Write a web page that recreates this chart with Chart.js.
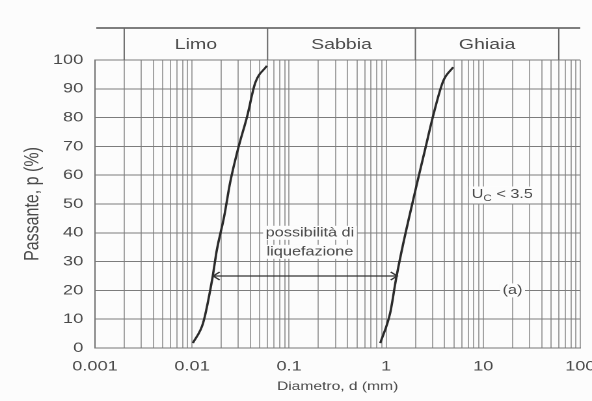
<!DOCTYPE html>
<html lang="it">
<head>
<meta charset="utf-8">
<title>Curva granulometrica - liquefazione</title>
<script src="https://cdn.jsdelivr.net/npm/chart.js@4.4.1/dist/chart.umd.min.js"></script>
<style>
  html, body { margin: 0; padding: 0; background: #fcfcfc; overflow: hidden; }
  /* il grafico originale e' una scansione allargata in orizzontale */
  #contenitore { width: 455px; height: 401px; transform: scaleX(1.3011); transform-origin: 0 0; }
</style>
</head>
<body>
<div id="contenitore">
  <canvas id="graficoGranulometria" width="455" height="401"></canvas>
</div>
<script>
// Dati
const diametroSx = [0.0102, 0.013, 0.0161, 0.018, 0.0214, 0.0247, 0.0297, 0.037, 0.0447, 0.059];
const passanteSx = [1.7, 8.7, 23.7, 34, 45.6, 57.5, 69, 80.5, 92, 98];
const diametroDx = [0.87, 1.1, 1.26, 1.45, 1.73, 2.09, 2.52, 3.04, 3.87, 4.9];
const passanteDx = [1.7, 12.2, 23.7, 34, 45.6, 57.5, 69, 80.5, 92.7, 97.5];

// freccia "possibilità di liquefazione"
const frecciaDiametri = [0.0165, 1.3];
const frecciaPassante = 25;

// fasce granulometriche in alto
const limitiFasce = [0.002, 0.06, 2, 60];
const nomiFasce = ['Limo', 'Sabbia', 'Ghiaia'];

// etichette asse x
const decadi = [0.001, 0.01, 0.1, 1, 10, 100];
const etichetteDecadi = ['0.001', '0.01', '0.1', '1', '10', '100'];

const testo = '#4a4a4a';
const famiglia = '"Liberation Sans", Arial, sans-serif';
Chart.defaults.font.family = famiglia;

// linee di griglia verticali: 1..9 per ogni decade
const valoriGriglia = [];
decadi.slice(0, -1).forEach(d => {
  for (let m = 1; m <= 9; m++) valoriGriglia.push(m * d);
});
valoriGriglia.push(decadi[decadi.length - 1]);

function etichettaX(v) {
  const i = decadi.findIndex(d => Math.abs(d - v) < d * 1e-6);
  return i >= 0 ? etichetteDecadi[i] : '';
}

function testoConSfondo(ctx, t, xc, yc, font) {
  ctx.font = font;
  const w = ctx.measureText(t).width;
  ctx.fillStyle = '#fcfcfc';
  ctx.fillRect(xc - w / 2 - 2, yc - 7, w + 4, 14);
  ctx.fillStyle = testo;
  ctx.fillText(t, xc, yc);
}

const bandaSuperiore = {
  id: 'bandaSuperiore',
  afterDraw(chart) {
    const { ctx, chartArea, scales: { x } } = chart;
    const yAlto = 28;
    ctx.save();
    ctx.strokeStyle = '#555';
    ctx.lineWidth = 1.6;
    ctx.beginPath();
    ctx.moveTo(chartArea.left + 1, yAlto);
    ctx.lineTo(chartArea.right, yAlto);
    ctx.stroke();
    ctx.lineWidth = 1;
    ctx.strokeStyle = '#666';
    ctx.beginPath();
    limitiFasce.forEach(v => {
      const px = x.getPixelForValue(v);
      ctx.moveTo(px, yAlto);
      ctx.lineTo(px, chartArea.top);
    });
    ctx.stroke();
    ctx.fillStyle = testo;
    ctx.font = '15px ' + famiglia;
    ctx.textAlign = 'center';
    ctx.textBaseline = 'middle';
    nomiFasce.forEach((n, i) => {
      const xc = (x.getPixelForValue(limitiFasce[i]) + x.getPixelForValue(limitiFasce[i + 1])) / 2;
      ctx.fillText(n, xc, 45);
    });
    ctx.restore();
  }
};

const annotazioni = {
  id: 'annotazioni',
  afterDatasetsDraw(chart) {
    const { ctx, scales: { x, y } } = chart;
    ctx.save();
    // punte della freccia
    const ya = y.getPixelForValue(frecciaPassante);
    const xa = x.getPixelForValue(frecciaDiametri[0]);
    const xb = x.getPixelForValue(frecciaDiametri[1]);
    ctx.strokeStyle = '#333';
    ctx.lineWidth = 1.3;
    ctx.beginPath();
    ctx.moveTo(xa + 5, ya - 4); ctx.lineTo(xa, ya); ctx.lineTo(xa + 5, ya + 4);
    ctx.moveTo(xb - 5, ya - 4); ctx.lineTo(xb, ya); ctx.lineTo(xb - 5, ya + 4);
    ctx.stroke();

    ctx.textAlign = 'center';
    ctx.textBaseline = 'middle';
    const f = '12.5px ' + famiglia;
    testoConSfondo(ctx, 'possibilità di', x.getPixelForValue(0.164), y.getPixelForValue(40), f);
    testoConSfondo(ctx, 'liquefazione', x.getPixelForValue(0.164), y.getPixelForValue(33.4), f);
    testoConSfondo(ctx, '(a)', x.getPixelForValue(20), y.getPixelForValue(20), f);

    // U_C < 3.5
    const xc = x.getPixelForValue(15.7), yc = y.getPixelForValue(53.3);
    ctx.font = f;
    const wU = ctx.measureText('U').width;
    const wR = ctx.measureText(' < 3.5').width;
    ctx.font = '9px ' + famiglia;
    const wC = ctx.measureText('C').width;
    const tot = wU + wC + wR;
    ctx.fillStyle = '#fcfcfc';
    ctx.fillRect(xc - tot / 2 - 2, yc - 8, tot + 4, 17);
    ctx.fillStyle = testo;
    ctx.textAlign = 'left';
    let cx = xc - tot / 2;
    ctx.font = f;
    ctx.fillText('U', cx, yc);
    cx += wU;
    ctx.font = '9px ' + famiglia;
    ctx.fillText('C', cx, yc + 4);
    cx += wC;
    ctx.font = f;
    ctx.fillText(' < 3.5', cx, yc);
    ctx.restore();
  }
};

const curva = (xs, ys) => xs.map((d, i) => ({ x: d, y: ys[i] }));

new Chart(document.getElementById('graficoGranulometria').getContext('2d'), {
  type: 'line',
  data: {
    datasets: [
      {
        label: 'Limite fine',
        data: curva(diametroSx, passanteSx),
        borderColor: '#2b2b2b',
        borderWidth: 1.8,
        pointRadius: 0,
        cubicInterpolationMode: 'monotone'
      },
      {
        label: 'Limite grosso',
        data: curva(diametroDx, passanteDx),
        borderColor: '#2b2b2b',
        borderWidth: 1.8,
        pointRadius: 0,
        cubicInterpolationMode: 'monotone'
      },
      {
        label: 'Possibilità di liquefazione',
        data: frecciaDiametri.map(d => ({ x: d, y: frecciaPassante })),
        borderColor: '#333',
        borderWidth: 1.3,
        pointRadius: 0
      }
    ]
  },
  options: {
    responsive: false,
    animation: false,
    devicePixelRatio: 2,
    layout: { padding: { top: 60, right: 9, left: 0, bottom: 0 } },
    plugins: { legend: { display: false }, tooltip: { enabled: false } },
    scales: {
      x: {
        type: 'logarithmic',
        min: 0.001,
        max: 100,
        afterBuildTicks: s => { s.ticks = valoriGriglia.map(v => ({ value: v })); },
        afterFit: s => { s.height = 53; s.paddingLeft = 0; s.paddingRight = 0; },
        grid: { color: '#a2a2a2', lineWidth: 1, drawTicks: false },
        border: { color: '#777' },
        ticks: {
          autoSkip: false, maxRotation: 0, padding: 10, color: testo,
          font: { size: 14 },
          callback: v => etichettaX(v)
        },
        title: {
          display: true, text: 'Diametro, d (mm)', color: testo,
          font: { size: 12 }, padding: { top: 0, bottom: 7 }
        }
      },
      y: {
        min: 0,
        max: 100,
        afterFit: s => { s.width = 73; s.paddingTop = 0; s.paddingBottom = 0; },
        grid: { color: '#7c7c7c', lineWidth: 1, drawTicks: false },
        border: { color: '#777' },
        ticks: { stepSize: 10, padding: 9, color: testo, font: { size: 14 } },
        title: {
          display: true, text: 'Passante, p (%)', color: testo,
          font: { size: 16 }, padding: { top: 15.5, bottom: 0 }
        }
      }
    }
  },
  plugins: [bandaSuperiore, annotazioni]
});
</script>
</body>
</html>
